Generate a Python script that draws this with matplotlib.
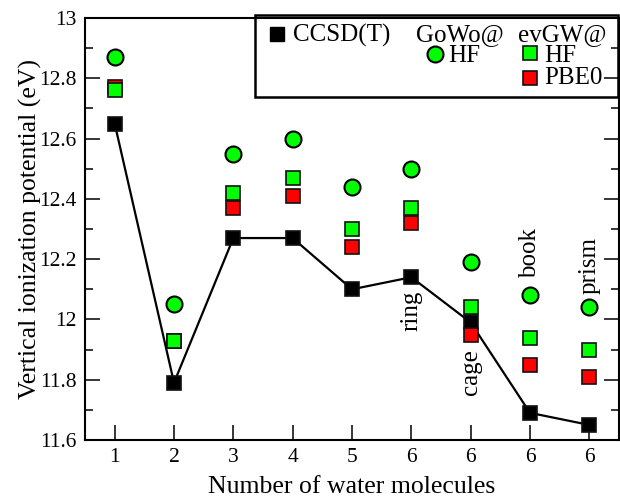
import numpy as np
import matplotlib
matplotlib.use("Agg")
import matplotlib.pyplot as plt
from matplotlib.ticker import MultipleLocator

plt.rcParams['font.family'] = ['Liberation Serif', 'DejaVu Serif']

# data
tick_labels = ['1', '2', '3', '4', '5', '6', '6', '6', '6']
ccsdt = [12.65, 11.79, 12.27, 12.27, 12.10, 12.14, 11.99, 11.69, 11.65]
g0w0_hf = [12.87, 12.05, 12.55, 12.60, 12.44, 12.50, 12.19, 12.08, 12.04]
evgw_hf = [12.76, 11.93, 12.42, 12.47, 12.30, 12.37, 12.04, 11.94, 11.90]
evgw_pbe0 = [12.77, 11.93, 12.37, 12.41, 12.24, 12.32, 11.95, 11.85, 11.81]
iso_names = ['ring', 'cage', 'book', 'prism']
iso_pos = [6, 7, 8, 9]
iso_y = [12.03, 11.825, 12.22, 12.18]

x = np.arange(1, len(ccsdt) + 1)

fig = plt.figure(figsize=(6.2, 5.0), dpi=100)

# overlay in pixel coords for the hand-made legend (drawn under main axes)
lax = fig.add_axes([0, 0, 1, 1], zorder=0)
lax.set_xlim(0, 620)
lax.set_ylim(500, 0)
lax.axis('off')

ax = fig.add_axes([85/620, 60/500, 534/620, 422/500], zorder=1)
ax.set_facecolor('none')

sq = dict(marker='s', markersize=9.5, markeredgecolor='#111111', markeredgewidth=1.2, linestyle='none')
ax.plot(x, ccsdt, color='black', lw=1.6, zorder=3)
ax.plot(x, ccsdt, markerfacecolor='black', zorder=3, **sq)
ax.plot(x, evgw_pbe0, markerfacecolor='#ff0000', zorder=4, **sq)
ax.plot(x, evgw_hf, markerfacecolor='#00ff00', zorder=5, **sq)
ax.plot(x, g0w0_hf, marker='o', markersize=11.5, markerfacecolor='#00ff00',
        markeredgecolor='black', markeredgewidth=1.5, linestyle='none', zorder=6)

for name, px, py in zip(iso_names, iso_pos, iso_y):
    ax.text(px, py, name, rotation=90, ha='center', va='center', fontsize=18)

ax.set_xlim(0.5, 9.5)
ax.set_ylim(11.6, 13.0)
ax.set_xticks(x)
ax.set_xticklabels(tick_labels)
ax.yaxis.set_major_locator(MultipleLocator(0.2))
ax.yaxis.set_minor_locator(MultipleLocator(0.1))
ax.set_yticklabels([('%g' % v) for v in ax.get_yticks()])
ax.tick_params(axis='both', which='major', direction='in', length=11, width=1.1, labelsize=15.5, pad=6)
ax.tick_params(axis='y', which='both', right=True)
ax.tick_params(axis='y', which='minor', direction='in', length=6, width=1.1)
for s in ax.spines.values():
    s.set_linewidth(1.5)

ax.set_xlabel('Number of water molecules', fontsize=18.5, labelpad=6)
ax.set_ylabel('Vertical ionization potential (eV)', fontsize=18.5, labelpad=-2)

# legend box
lax.add_patch(plt.Rectangle((255, 15), 363, 82, facecolor='white', edgecolor='black', lw=1.8))
lax.plot([277], [34], marker='s', markersize=10, color='black', linestyle='none')
lax.text(293, 35, 'CCSD(T)', fontsize=18, va='center', ha='left')
lax.text(460, 35, 'GoWo@', fontsize=18, va='center', ha='center')
lax.plot([435], [54], marker='o', markersize=11.5, markerfacecolor='#00ff00',
         markeredgecolor='black', markeredgewidth=1.5, linestyle='none')
lax.text(448, 56, 'HF', fontsize=18, va='center', ha='left')
lax.text(562, 35, 'evGW@', fontsize=18, va='center', ha='center')
lax.plot([530], [53], markerfacecolor='#00ff00', **sq)
lax.text(544, 56, 'HF', fontsize=18, va='center', ha='left')
lax.plot([530], [78], markerfacecolor='#ff0000', **sq)
lax.text(544, 78, 'PBE0', fontsize=18, va='center', ha='left')

fig.savefig('out.png', dpi=100)
